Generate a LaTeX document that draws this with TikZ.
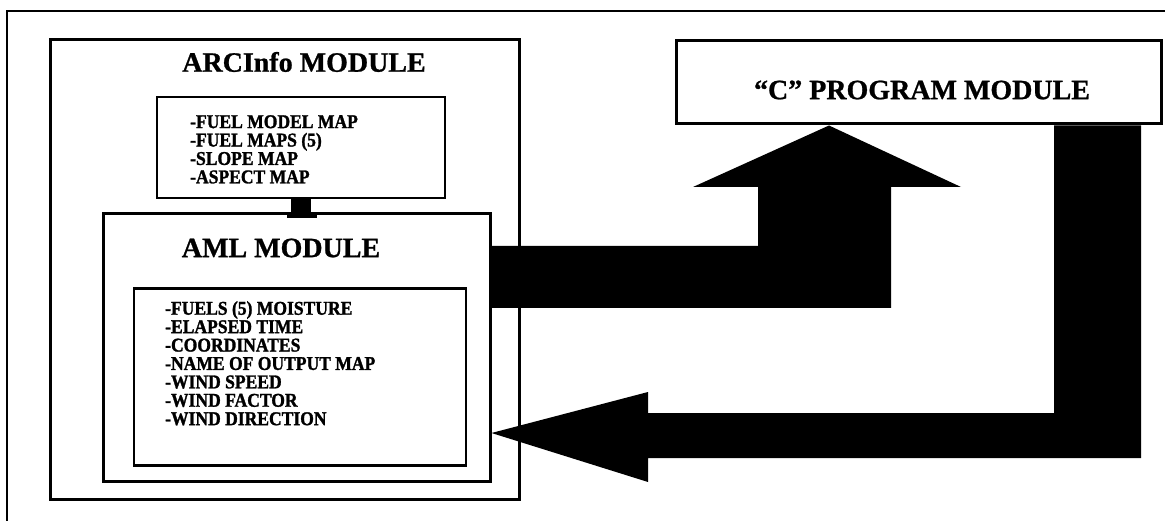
\documentclass[tikz,border=0pt]{standalone}
\usepackage{fontspec}
\setmainfont{Liberation Serif}[BoldFeatures={FakeBold=0.9}]
\newfontfamily\listfont{Liberation Serif}[BoldFeatures={FakeStretch=0.9,FakeBold=1.4}]
\begin{document}
\begin{tikzpicture}[x=1pt,y=-1pt,
  box/.style={draw, line width=3pt, fill=white, inner sep=0pt},
  thinbox/.style={draw, line width=2.6pt, fill=white, inner sep=0pt},
  title/.style={font=\fontsize{28}{30}\selectfont\bfseries, inner sep=0pt},
  listtxt/.style={font=\listfont\fontsize{19.5}{18.4}\selectfont\bfseries, align=left, inner sep=0pt, anchor=north west},
  flow/.style={fill=black, draw=none}]
\useasboundingbox (0,0) rectangle (1165,521);
% outer frame
\draw[line width=2pt] (7,11) rectangle (1180,540);
% ARCInfo module
\node[box, minimum width=469pt, minimum height=459pt] (arc) at (284.5,269.5) {};
\node[title] (arctitle) at (304,62) {ARCInfo MODULE};
% maps box
\node[thinbox, minimum width=288pt, minimum height=101pt] (maps) at (301,147.5) {};
\node[listtxt] (mapstxt) at (190,115) {-FUEL MODEL MAP\\-FUEL MAPS (5)\\-SLOPE MAP\\-ASPECT MAP};
% AML module
\node[box, minimum width=387pt, minimum height=267pt] (aml) at (296.5,347.5) {};
\node[title] (amltitle) at (281,248) {AML MODULE};
\node[thinbox, minimum width=332pt, minimum height=177pt] (list) at (300,377) {};
\node[listtxt] (listtxt) at (165,301) {-FUELS (5) MOISTURE\\-ELAPSED TIME\\-COORDINATES\\-NAME OF OUTPUT MAP\\-WIND SPEED\\-WIND FACTOR\\-WIND DIRECTION};
% stub between maps and AML
\coordinate (stubtop) at (maps.south);
\coordinate (stubbot) at (maps.south |- aml.north);
\fill ([xshift=-10pt]stubtop) rectangle ([xshift=10pt]stubbot);
\fill ([xshift=-14pt,yshift=-6pt]stubbot) rectangle ([xshift=16pt]stubbot);
% C program module
\node[box, minimum width=485pt, minimum height=83pt] (cbox) at (918.5,82.5) {};
\node[title] (ctitle) at (922,90) {“C” PROGRAM MODULE};
% up arrow: AML -> C
\coordinate (uptipx) at (829,0);
\coordinate (upbarT) at (0,246);
\coordinate (upbarB) at (0,308);
\coordinate (uptip) at (uptipx |- cbox.south);
\fill[flow] (aml.east |- upbarT) -- (758,246) -- (758,187) -- (693,187) -- (uptip)
  -- (961,187) -- (891,187) -- (891,308) -- (aml.east |- upbarB) -- cycle;
% return arrow: C -> AML
\coordinate (dnL) at (1054,0);
\coordinate (dnR) at (1141,0);
\coordinate (tipy) at (0,433);
\fill[flow] (dnL |- cbox.south) -- (dnR |- cbox.south) -- (1141,458) -- (648,458) -- (648,482)
  -- (aml.east |- tipy) -- (648,392) -- (648,413) -- (1054,413) -- cycle;
\end{tikzpicture}
\end{document}
